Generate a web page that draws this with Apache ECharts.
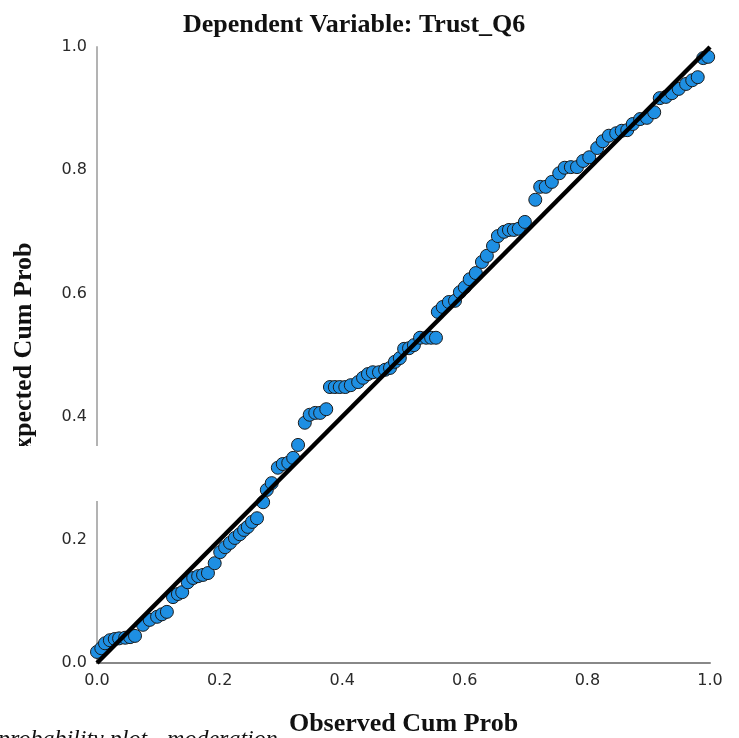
<!DOCTYPE html>
<html>
<head>
<meta charset="utf-8">
<script src="https://cdn.jsdelivr.net/npm/echarts@6/dist/echarts.min.js"></script>
<style>
  html, body { margin: 0; padding: 0; background: #fff; }
  #chart { width: 739px; height: 738px; }
</style>
</head>
<body>
<div id="chart"></div>
<script>
// observed cum prob (x) and expected cum prob (y)
var observed = [
  0.000, 0.007, 0.013, 0.021, 0.029, 0.036, 0.046, 0.054, 0.062, 0.075,
  0.086, 0.098, 0.106, 0.114, 0.124, 0.132, 0.139, 0.148, 0.157, 0.165,
  0.173, 0.181, 0.192, 0.201, 0.209, 0.217, 0.225, 0.233, 0.240, 0.246,
  0.253, 0.261, 0.271, 0.277, 0.285, 0.295, 0.303, 0.312, 0.320, 0.328,
  0.339, 0.347, 0.356, 0.364, 0.374, 0.380, 0.388, 0.396, 0.405, 0.414,
  0.426, 0.434, 0.442, 0.450, 0.460, 0.470, 0.478, 0.486, 0.494, 0.501,
  0.509, 0.517, 0.527, 0.537, 0.545, 0.553, 0.556, 0.564, 0.574, 0.584,
  0.592, 0.600, 0.608, 0.618, 0.628, 0.636, 0.646, 0.654, 0.664, 0.672,
  0.680, 0.688, 0.698, 0.715, 0.723, 0.732, 0.742, 0.754, 0.763, 0.773,
  0.783, 0.793, 0.803, 0.816, 0.825, 0.835, 0.847, 0.856, 0.865, 0.874,
  0.886, 0.897, 0.909, 0.918, 0.928, 0.938, 0.949, 0.961, 0.971, 0.980,
  0.989, 0.997
];
var expected = [
  0.018, 0.024, 0.032, 0.037, 0.039, 0.040, 0.041, 0.042, 0.044, 0.062,
  0.070, 0.075, 0.079, 0.083, 0.107, 0.112, 0.115, 0.131, 0.138, 0.141,
  0.143, 0.146, 0.162, 0.180, 0.188, 0.195, 0.203, 0.209, 0.216, 0.221,
  0.229, 0.235, 0.261, 0.281, 0.292, 0.317, 0.323, 0.325, 0.333, 0.354,
  0.390, 0.403, 0.406, 0.406, 0.412, 0.448, 0.448, 0.448, 0.448, 0.451,
  0.456, 0.463, 0.469, 0.472, 0.472, 0.476, 0.479, 0.489, 0.495, 0.510,
  0.511, 0.516, 0.528, 0.528, 0.528, 0.528, 0.570, 0.578, 0.586, 0.588,
  0.602, 0.610, 0.623, 0.633, 0.651, 0.661, 0.677, 0.693, 0.700, 0.703,
  0.703, 0.705, 0.716, 0.752, 0.773, 0.773, 0.781, 0.795, 0.804, 0.805,
  0.805, 0.815, 0.821, 0.836, 0.847, 0.856, 0.860, 0.864, 0.865, 0.875,
  0.883, 0.885, 0.894, 0.917, 0.919, 0.925, 0.932, 0.940, 0.946, 0.951,
  0.982, 0.984
];
var refLine = [[0, 0], [1, 1]];

var points = observed.map(function (x, i) { return [x, expected[i]]; });

var chart = echarts.init(document.getElementById('chart'));
chart.setOption({
  animation: false,
  title: {
    text: 'Dependent Variable: Trust_Q6',
    left: 183,
    top: 12,
    padding: 0,
    textStyle: {
      fontFamily: 'Liberation Serif',
      fontWeight: 'bold',
      fontSize: 26,
      color: '#111'
    }
  },
  grid: { left: 97, right: 29, top: 47, bottom: 75, outerBoundsMode: 'none', containLabel: false },
  xAxis: {
    type: 'value',
    min: 0,
    max: 1,
    interval: 0.2,
    name: 'Observed Cum Prob',
    nameLocation: 'middle',
    nameGap: 48,
    nameTextStyle: {
      fontFamily: 'Liberation Serif',
      fontWeight: 'bold',
      fontSize: 26,
      color: '#111'
    },
    axisLine: { lineStyle: { color: '#888', width: 2 } },
    axisTick: { show: false },
    splitLine: { show: false },
    axisLabel: {
      margin: 10,
      fontFamily: 'DejaVu Sans',
      fontSize: 16,
      color: '#2a2a2a',
      formatter: function (v) { return v.toFixed(1); }
    }
  },
  yAxis: {
    type: 'value',
    min: 0,
    max: 1,
    interval: 0.2,
    name: 'Expected Cum Prob',
    nameLocation: 'middle',
    nameRotate: 90,
    nameGap: 60,
    nameTextStyle: {
      fontFamily: 'Liberation Serif',
      fontWeight: 'bold',
      fontSize: 26,
      color: '#111'
    },
    axisLine: { show: true, lineStyle: { color: '#b3b3b3', width: 2 } },
    axisTick: { show: false },
    splitLine: { show: false },
    axisLabel: {
      margin: 10,
      fontFamily: 'DejaVu Sans',
      fontSize: 16,
      color: '#2a2a2a',
      formatter: function (v) { return v.toFixed(1); }
    }
  },
  series: [
    {
      type: 'scatter',
      data: points,
      symbol: 'circle',
      symbolSize: 13,
      itemStyle: { color: '#1e8fe3', borderColor: '#1a1a1a', borderWidth: 1, opacity: 1 },
      z: 2
    },
    {
      type: 'line',
      data: refLine,
      symbol: 'none',
      lineStyle: { color: '#000', width: 4.5 },
      z: 3
    }
  ],
  graphic: [
    // white patch that cuts the left axis and its name in the original
    { type: 'rect', left: 0, top: 446, shape: { width: 100, height: 55 }, style: { fill: '#fff' }, z: 100 },
    {
      type: 'text', x: -2, y: 740, z: 100,
      style: {
        text: 'probability plot - moderation',
        font: 'italic 24px "Liberation Serif"',
        fill: '#111',
        verticalAlign: 'middle'
      }
    }
  ]
});
</script>
</body>
</html>
